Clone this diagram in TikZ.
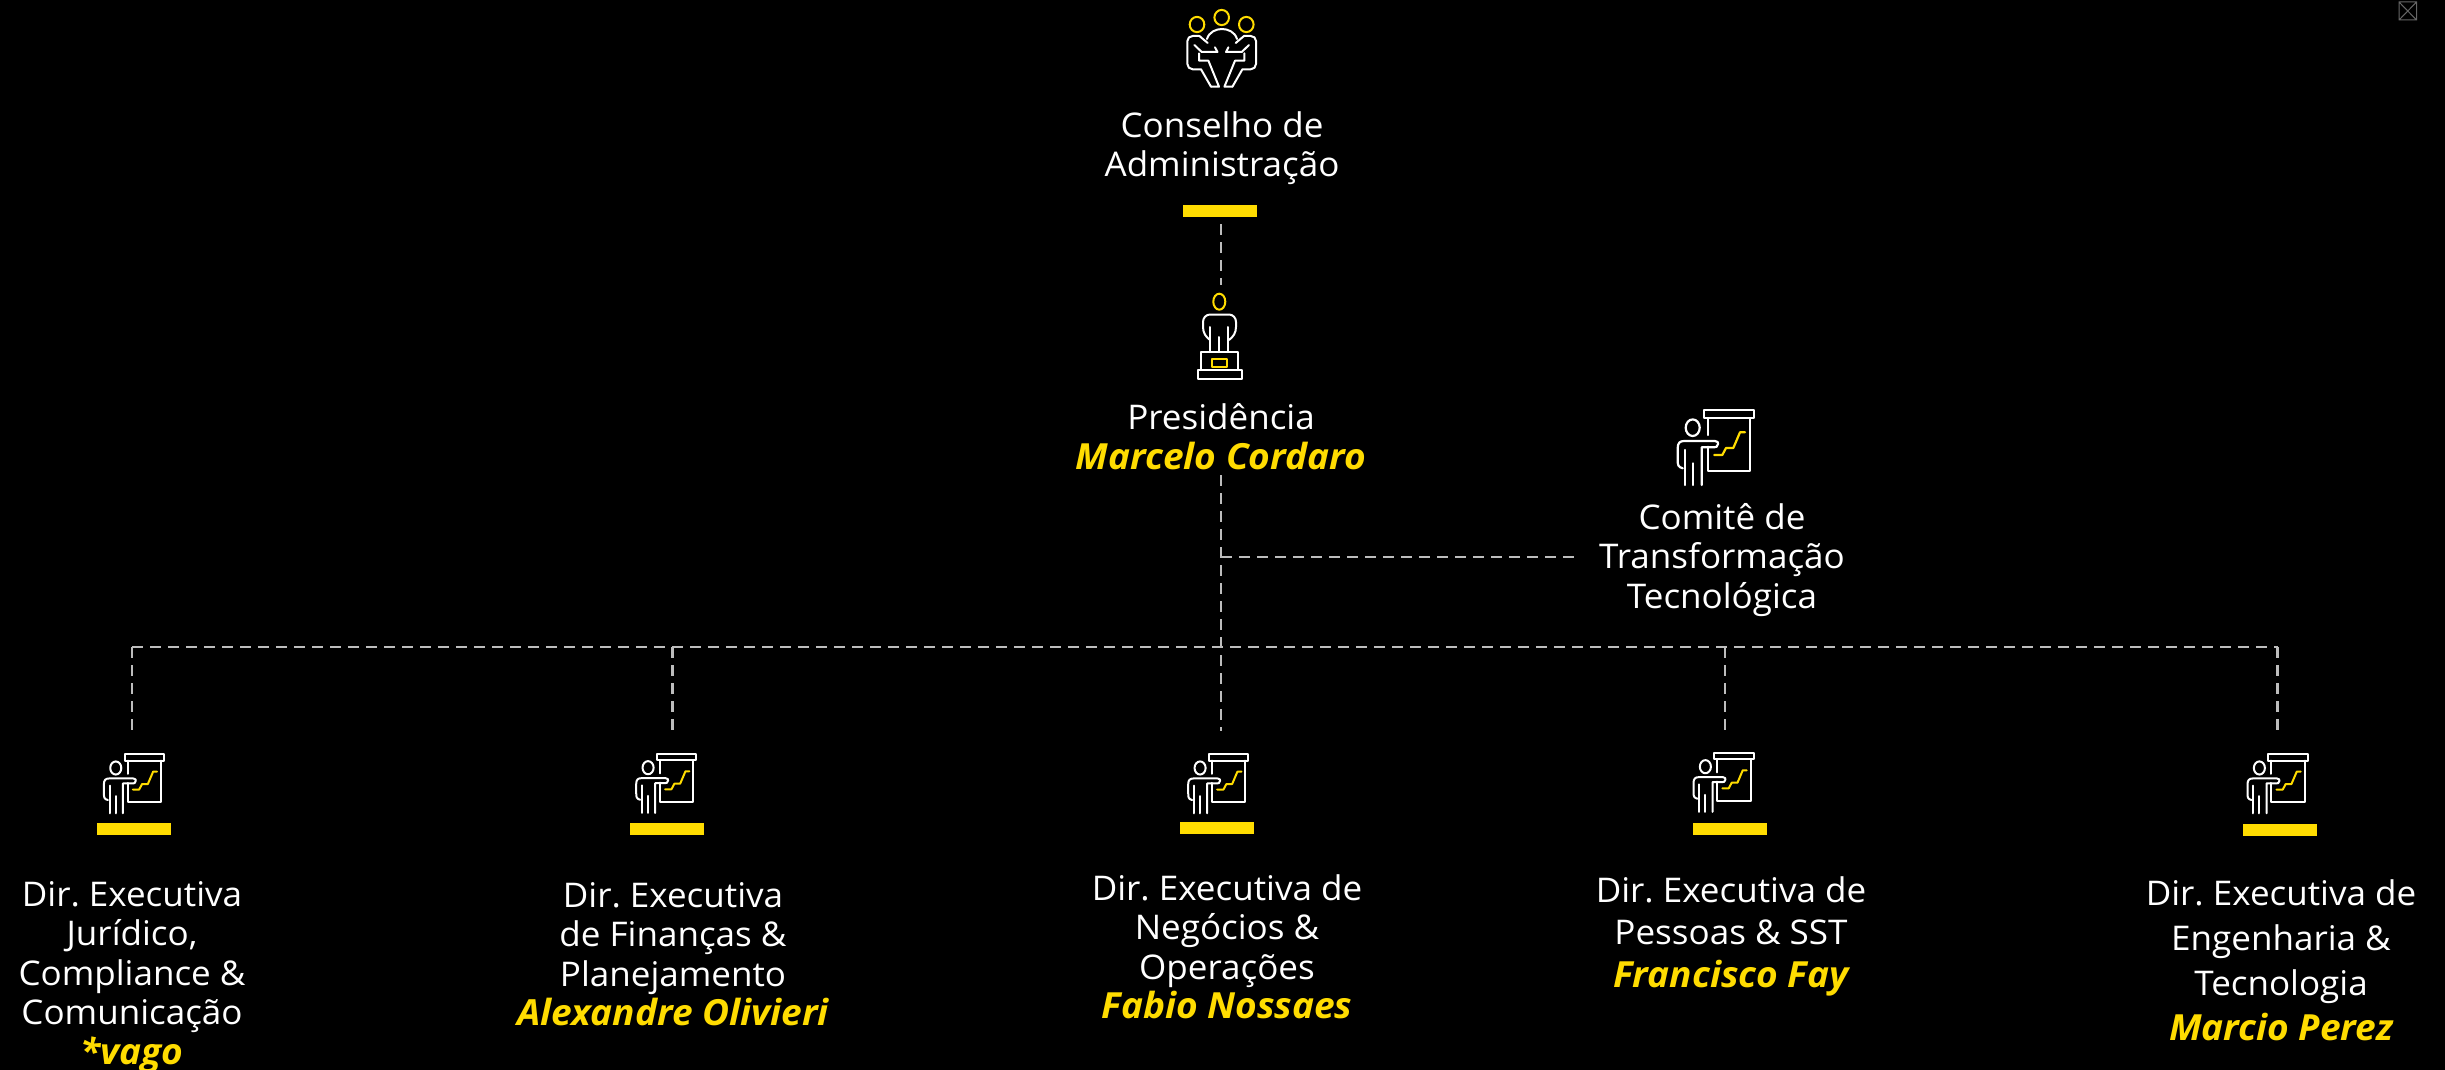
\documentclass[tikz,border=0pt]{standalone}
\usepackage{fontspec}
\setmainfont[FakeStretch=1.03]{Open Sans}
\frenchspacing
\definecolor{ybar}{HTML}{FFDC00}
\definecolor{dashc}{HTML}{BDBDBD}
\newcommand{\yname}[1]{\textcolor{ybar}{\fontsize{36}{39.5}\selectfont\bfseries\itshape #1}}
\tikzset{
  x=1pt,y=-1pt,
  txt/.style={text=white,align=center,inner sep=0pt,font=\fontsize{34}{39.5}\selectfont},
  wideline/.style={txt,font=\fontsize{34}{45}\selectfont},
  midline/.style={txt,font=\fontsize{34}{42.5}\selectfont},
  conn/.style={draw=dashc,line width=2.6pt,dash pattern=on 11pt off 7pt},
  ybarbox/.style={fill=ybar,draw=none,minimum width=74pt,minimum height=12pt,inner sep=0pt},
  iconw/.style={draw=white,line width=2pt,line join=round,line cap=round},
  icony/.style={draw=ybar,line width=2pt,line join=round,line cap=round},
  chartico/.pic={
    \draw[iconw,line width=#1] (0,0) rectangle (49.7,8.3);
    \draw[iconw,line width=#1] (3.7,8.3) -- (3.7,25);
    \draw[iconw,line width=#1] (3.7,36.7) -- (3.7,61) -- (46,61) -- (46,8.3);
    \draw[iconw,line width=#1] (-11.3,17.7) ellipse (7 and 8.3);
    \draw[iconw,line width=#1] (-21.3,58.3) .. controls (-26,57) and (-26.3,55) .. (-26.3,50) -- (-26.3,38) .. controls (-26.3,33) and (-24,31) .. (-20,31) -- (11,31) .. controls (14,31) and (14.3,33) .. (14,34) .. controls (13.5,37) and (12,37.3) .. (10,37.3) -- (-2.3,37.3) -- (-2.3,75);
    \draw[iconw,line width=#1] (-19,40) -- (-19,75);
    \draw[iconw,line width=#1] (-11.3,53.3) -- (-11.3,75);
    \draw[icony,line width=#1] (10.3,45) -- (18.3,45) -- (22,38) -- (29.3,38) -- (36,22.3) -- (41,22.3);
  },
  halfboard/.pic={
    \draw[iconw] (-10.7,86.7) -- (-20.7,69.3) -- (-29,69.3) .. controls (-32,69.3) and (-34.3,67) .. (-34.3,64) -- (-34.3,41) .. controls (-34.3,38) and (-32,36) .. (-29,36) -- (-22.3,36) -- (-14,43);
    \draw[iconw] (-27.3,45) -- (-20,52) -- (-4.3,52) -- (-6.7,47.3);
    \draw[iconw] (-22.7,53.3) -- (-22.7,60.7) -- (-13.3,60.7) -- (-2.7,86.7) -- (-10.7,86.7);
  }
}
\begin{document}
\begin{tikzpicture}
\useasboundingbox (0,0) rectangle (2445,1070);
\fill[black] (0,0) rectangle (2445,1070);

% close mark
\draw[draw=gray!80!black,line width=1pt] (2399,2) rectangle (2416.5,20) (2399,2) -- (2416.5,20) (2416.5,2) -- (2399,20);

% council icon
\pic at (1221.7,0) {halfboard};
\pic[xscale=-1] at (1221.7,0) {halfboard};
\draw[iconw] (1207,39) .. controls (1209,32) and (1216,29) .. (1222,29) .. controls (1228,29) and (1235,32) .. (1237,39);
\draw[icony] (1197,24.5) ellipse (7.3 and 7.6);
\draw[icony] (1221.7,17.5) ellipse (7.3 and 7.6);
\draw[icony] (1246.3,24.5) ellipse (7.3 and 7.6);

\node[txt] (cons) at (1222,148) {Conselho de\\Administração};
\node[ybarbox] (consbar) at (1220,211) {};

% presidency icon
\draw[icony] (1219.3,301.7) ellipse (6 and 8);
\draw[iconw] (1210,352) -- (1210,327);
\draw[iconw] (1227.7,327) -- (1227.7,352);
\draw[iconw] (1219.3,337) -- (1219.3,352);
\draw[iconw] (1210,340) .. controls (1206,337) and (1203,333) .. (1203,327) -- (1203,322) .. controls (1203,318) and (1206,314.5) .. (1210,314.5) -- (1229,314.5) .. controls (1233,314.5) and (1236,318) .. (1236,322) -- (1236,327) .. controls (1236,333) and (1233,337) .. (1229,340);
\draw[iconw] (1201,370) -- (1201,352.3) -- (1237.7,352.3) -- (1237.7,370);
\draw[iconw] (1197.5,370) rectangle (1241.5,378.7);
\draw[icony] (1211.7,359.3) rectangle (1227.3,367.3);

\node[txt] (pres) at (1221,436.5) {Presidência\\\yname{Marcelo Cordaro}};

% committee
\pic at (1704,410) {chartico=2.2pt};
\node[txt] (comite) at (1722,560) {Comitê de\\Transformação\\Tecnológica};

% bars and icons of directorates
\pic[scale=.79] at (124.7,754) {chartico=2pt};
\pic[scale=.79] at (657,753.7) {chartico=2pt};
\pic[scale=.79] at (1209,754) {chartico=2pt};
\pic[scale=.79] at (1714.3,752.7) {chartico=2pt};
\pic[scale=.79] at (2268.3,754) {chartico=2pt};
\node[ybarbox] (b1) at (134,829) {};
\node[ybarbox] (b2) at (667,829) {};
\node[ybarbox] (b3) at (1217,828) {};
\node[ybarbox] (b4) at (1730,829) {};
\node[ybarbox] (b5) at (2280,830) {};

\node[txt] (d1) at (132,977) {Dir. Executiva\\Jurídico,\\Compliance \&\\Comunicação\\\yname{*vago}};
\node[txt] (d2) at (673,954) {Dir. Executiva\\de Finanças \&\\Planejamento\\\yname{Alexandre Olivieri}};
\node[txt] (d3) at (1227,947) {Dir. Executiva de\\Negócios \&\\Operações\\\yname{Fabio Nossaes}};
\node[midline] (d4) at (1731,936) {Dir. Executiva de\\Pessoas \& SST\\\yname{Francisco Fay}};
\node[wideline] (d5) at (2281,960) {Dir. Executiva de\\Engenharia \&\\Tecnologia\\\yname{Marcio Perez}};

% connectors
\coordinate (c0) at (1221,224);
\coordinate (c1) at (1221,285);
\coordinate (c2) at (1221,475);
\coordinate (c3) at (1221,731);
\coordinate (h) at (1221,557);
\coordinate (he) at (1575,557);
\coordinate (t1) at (132,647);
\coordinate (t5) at (2277.7,647);
\coordinate (e1) at (132,731);
\coordinate (e2) at (672.3,731);
\coordinate (e4) at (1725,731);
\coordinate (e5) at (2277.7,731);
\draw[conn] (c0) -- (c1);
\draw[conn] (c2) -- (c3);
\draw[conn] (h) -- (he);
\draw[conn] (t1) -- (t5);
\draw[conn] (t1) -- (e1);
\draw[conn] (e2 |- t1) -- (e2);
\draw[conn] (e4 |- t1) -- (e4);
\draw[conn] (t5) -- (e5);
\end{tikzpicture}
\end{document}
